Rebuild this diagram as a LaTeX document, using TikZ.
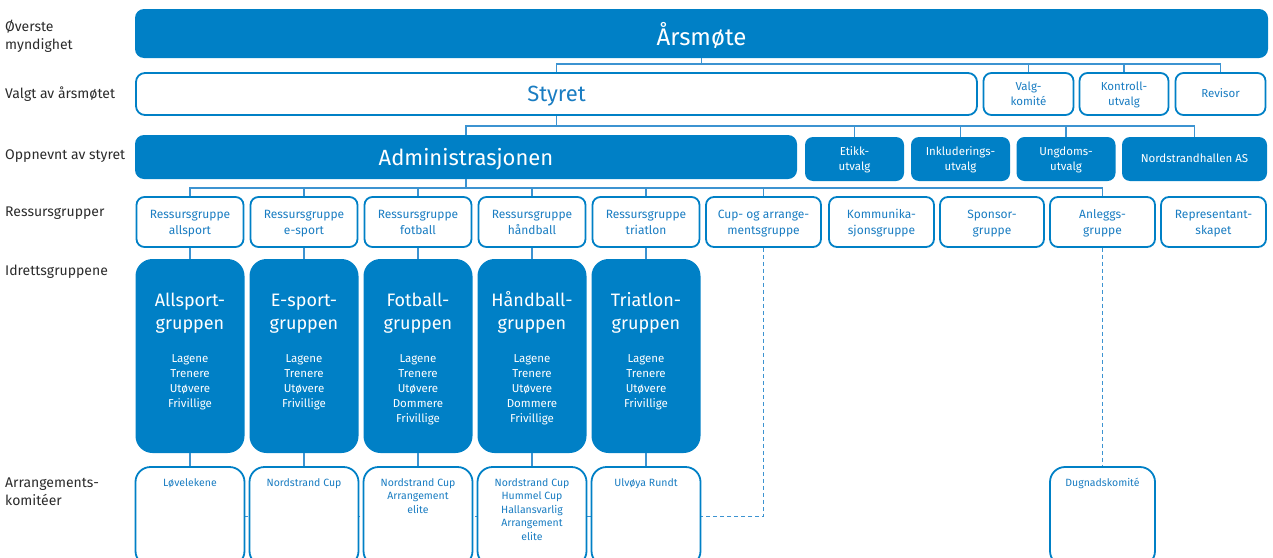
\documentclass[tikz,border=0pt]{standalone}
\usepackage{fontspec}
\setmainfont{Fira Sans}
\usetikzlibrary{positioning,backgrounds}

\definecolor{ilblue}{HTML}{0080C6}
\definecolor{iltext}{HTML}{1A7DC2}
\definecolor{illine}{HTML}{3C93D1}
\definecolor{ilgray}{HTML}{2B2B2B}

\tikzset{
  capcentre/.style 2 args={execute at begin node={\rule[-#2]{0pt}{\dimexpr#1+#2\relax}}},
  fillpart/.style={fill=ilblue, text=white},
  openpart/.style={draw=ilblue, line width=1.8pt, fill=white, text=iltext},
  toplevel/.style={fillpart, rounded corners=9pt, inner sep=0pt, text depth=0pt, font=\fontsize{22}{26}\selectfont},
  openlevel/.style={openpart, rounded corners=9pt, inner sep=0pt, text depth=0pt, font=\fontsize{22}{26}\selectfont},
  smallbox/.style={rounded corners=8pt, inner sep=0pt, align=center, font=\fontsize{11.5}{15}\selectfont},
  smallfill/.style={smallbox, fillpart, minimum height=44pt, capcentre={27.9pt}{5pt}},
  smallopen/.style={smallbox, openpart, capcentre={27.9pt}{5pt}},
  smallfillone/.style={smallbox, fillpart, minimum height=44pt, capcentre={12.9pt}{5pt}},
  smallopenone/.style={smallbox, openpart, capcentre={12.9pt}{5pt}},
  ressurs/.style={smallbox, openpart, minimum height=50pt, font=\fontsize{12}{16}\selectfont, capcentre={29.3pt}{5pt}},
  idrett/.style={fill=ilblue, rounded corners=17pt, minimum width=109pt, minimum height=194pt, inner sep=0pt},
  idtitle/.style={text=white, align=center, inner sep=0pt, font=\fontsize{18}{23}\selectfont, capcentre={40pt}{6pt}},
  idlist/.style={text=white, align=center, inner sep=0pt, font=\fontsize{11.5}{15}\selectfont},
  arrbox/.style={openpart, rounded corners=15pt, minimum width=109pt, minimum height=99pt, inner sep=0pt},
  arrtext/.style={text=iltext, align=center, inner sep=0pt, font=\fontsize{10.5}{13.5}\selectfont},
  side/.style={anchor=west, align=left, inner sep=0pt, text=ilgray, font=\fontsize{14}{18}\selectfont},
  conn/.style={draw=illine, line width=1.1pt},
  dconn/.style={conn, dash pattern=on 4pt off 3pt},
}

\begin{document}
\begin{tikzpicture}[x=1pt, y=-1pt]
    \useasboundingbox (0,0) rectangle (1273,557);
    \clip (0,0) rectangle (1273,557);

    % left column
    \node[side] (lblTop) at (5,36) {Øverste\\myndighet};
    \node[side] (lblValgt) at (5,94) {Valgt av årsmøtet};
    \node[side] (lblOpp) at (5,156) {Oppnevnt av styret};
    \node[side] (lblRes) at (5,213) {Ressursgrupper};
    \node[side] (lblId) at (5,272) {Idrettsgruppene};
    \node[side] (lblArr) at (5,492) {Arrangements-\\komitéer};

    % top levels
    \node[toplevel, minimum width=1133pt, minimum height=49pt, font=\fontsize{24}{28}\selectfont] (aars) at (701.5,33.5) {Årsmøte};
    \node[openlevel, minimum width=841pt, minimum height=42pt] (styret) at (556.5,94) {Styret};
    \node[smallopen, minimum width=90pt, minimum height=42pt] (valg) at (1028.5,94) {Valg-\\komité};
    \node[smallopen, minimum width=89pt, minimum height=42pt] (kontroll) at (1124,94) {Kontroll-\\utvalg};
    \node[smallopenone, minimum width=90pt, minimum height=42pt] (revisor) at (1220.5,94) {Revisor};

    \node[toplevel, minimum width=662pt, minimum height=44pt] (admin) at (466,157) {Administrasjonen};
    \node[smallfill, minimum width=99pt] (etikk) at (854.5,159) {Etikk-\\utvalg};
    \node[smallfill, minimum width=99pt] (inkl) at (960.5,159) {Inkluderings-\\utvalg};
    \node[smallfill, minimum width=99pt] (ungdom) at (1066,159) {Ungdoms-\\utvalg};
    \node[smallfillone, minimum width=145pt] (nhall) at (1194.5,159) {Nordstrandhallen AS};

    % ressursgrupper
    \node[ressurs, minimum width=107pt] (rall) at (190,222) {Ressursgruppe\\allsport};
    \node[ressurs, minimum width=107pt] (resp) at (304,222) {Ressursgruppe\\e-sport};
    \node[ressurs, minimum width=107pt] (rfot) at (418,222) {Ressursgruppe\\fotball};
    \node[ressurs, minimum width=107pt] (rhand) at (532,222) {Ressursgruppe\\håndball};
    \node[ressurs, minimum width=107pt] (rtri) at (646,222) {Ressursgruppe\\triatlon};
    \node[ressurs, minimum width=115pt] (cup) at (763.5,222) {Cup- og arrange-\\mentsgruppe};
    \node[ressurs, minimum width=105pt] (komm) at (881.5,222) {Kommunika-\\sjonsgruppe};
    \node[ressurs, minimum width=104pt] (spons) at (992,222) {Sponsor-\\gruppe};
    \node[ressurs, minimum width=105pt] (anl) at (1102.5,222) {Anleggs-\\gruppe};
    \node[ressurs, minimum width=105pt] (repr) at (1213.5,222) {Representant-\\skapet};

    % idrettsgruppene
    \node[idrett] (all) at (190,356) {};
    \node[idtitle, below=30pt of all.north] (allT) {Allsport-\\gruppen};
    \node[idlist, below=96pt of all.north] (allL) {Lagene\\Trenere\\Utøvere\\Frivillige};
    \node[idrett] (esp) at (304,356) {};
    \node[idtitle, below=30pt of esp.north] (espT) {E-sport-\\gruppen};
    \node[idlist, below=96pt of esp.north] (espL) {Lagene\\Trenere\\Utøvere\\Frivillige};
    \node[idrett] (fot) at (418,356) {};
    \node[idtitle, below=30pt of fot.north] (fotT) {Fotball-\\gruppen};
    \node[idlist, below=96pt of fot.north] (fotL) {Lagene\\Trenere\\Utøvere\\Dommere\\Frivillige};
    \node[idrett] (hand) at (532,356) {};
    \node[idtitle, below=30pt of hand.north] (handT) {Håndball-\\gruppen};
    \node[idlist, below=96pt of hand.north] (handL) {Lagene\\Trenere\\Utøvere\\Dommere\\Frivillige};
    \node[idrett] (tri) at (646,356) {};
    \node[idtitle, below=30pt of tri.north] (triT) {Triatlon-\\gruppen};
    \node[idlist, below=96pt of tri.north] (triL) {Lagene\\Trenere\\Utøvere\\Frivillige};

    % arrangementskomiteer
    \node[arrbox] (lov) at (190,516.5) {};
    \node[arrtext, below=12pt of lov.north] (lovT) {Løvelekene};
    \node[arrbox] (ncup) at (304,516.5) {};
    \node[arrtext, below=12pt of ncup.north] (ncupT) {Nordstrand Cup};
    \node[arrbox] (afot) at (418,516.5) {};
    \node[arrtext, below=12pt of afot.north] (afotT) {Nordstrand Cup\\Arrangement\\elite};
    \node[arrbox] (ahand) at (532,516.5) {};
    \node[arrtext, below=12pt of ahand.north] (ahandT) {Nordstrand Cup\\Hummel Cup\\Hallansvarlig\\Arrangement\\elite};
    \node[arrbox] (ulv) at (646,516.5) {};
    \node[arrtext, below=12pt of ulv.north] (ulvT) {Ulvøya Rundt};
    \node[arrbox, minimum width=105pt] (dugn) at (1102.5,516.5) {};
    \node[arrtext, below=12pt of dugn.north] (dugnT) {Dugnadskomité};

    % connectors
    \coordinate (jA) at (701.5,64);
    \coordinate (jS) at (556.5,126);
    \coordinate (jR) at (466,188);
    \draw[conn] (aars.south) -- (jA);
    \draw[conn] (jA) -| (styret.north);
    \draw[conn] (jA) -| (valg.north);
    \draw[conn] (jA) -| (kontroll.north);
    \draw[conn] (jA) -| (revisor.north);
    \draw[conn] (styret.south) -- (jS);
    \draw[conn] (jS) -| (admin.north);
    \draw[conn] (jS) -| (etikk.north);
    \draw[conn] (jS) -| (inkl.north);
    \draw[conn] (jS) -| (ungdom.north);
    \draw[conn] (jS) -| (nhall.north);
    \draw[conn] (admin.south) -- (jR);
    \draw[conn] (jR) -| (rall.north);
    \draw[conn] (jR) -| (resp.north);
    \draw[conn] (jR) -| (rfot.north);
    \draw[conn] (jR) -| (rhand.north);
    \draw[conn] (jR) -| (rtri.north);
    \draw[conn] (jR) -| (cup.north);
    \draw[conn] (jR) -| (anl.north);
    \draw[conn] (rall.south) -- (all.north);
    \draw[conn] (resp.south) -- (esp.north);
    \draw[conn] (rfot.south) -- (fot.north);
    \draw[conn] (rhand.south) -- (hand.north);
    \draw[conn] (rtri.south) -- (tri.north);
    \draw[conn] (all.south) -- (lov.north);
    \draw[conn] (esp.south) -- (ncup.north);
    \draw[conn] (fot.south) -- (afot.north);
    \draw[conn] (hand.south) -- (ahand.north);
    \draw[conn] (tri.south) -- (ulv.north);
    \draw[dconn] (anl.south) -- (dugn.north);
    \begin{scope}[on background layer]
      \draw[dconn] (cup.south) |- (lov.center);
    \end{scope}
\end{tikzpicture}
\end{document}
